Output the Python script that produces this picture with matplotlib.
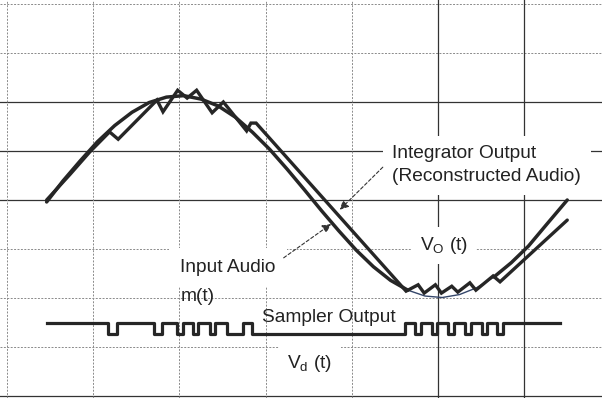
import matplotlib.pyplot as plt

plt.rcParams['font.family'] = ['Liberation Sans', 'DejaVu Sans']

# everything is in scope divisions (x: time, y: volts per division)
# input audio m(t)
sine_t = [0.46, 0.65, 0.85, 1.05, 1.25, 1.45, 1.65, 1.85, 2.05, 2.25, 2.45,
          2.65, 2.85, 3.05, 3.25, 3.45, 3.65, 3.85, 4.05, 4.25, 4.45, 4.65,
          4.85, 5.05, 5.25, 5.45, 5.65, 5.85, 6.05, 6.25, 6.50]
sine_v = [-0.04, 0.39, 0.80, 1.19, 1.52, 1.79, 1.99, 2.10, 2.13, 2.06, 1.92,
          1.69, 1.38, 1.03, 0.63, 0.21, -0.22, -0.63, -1.02, -1.36, -1.64, -1.84,
          -1.96, -1.99, -1.93, -1.79, -1.57, -1.28, -0.94, -0.52, 0.00]

# integrator output (reconstructed audio) corner points
integ_t = [0.46, 0.73, 0.96, 1.19, 1.29, 1.74, 1.81, 1.98, 2.09, 2.20, 2.38,
           2.51, 2.78, 2.83, 2.89, 4.63, 4.77, 4.84, 4.97, 5.04, 5.16, 5.23,
           5.37, 5.44, 5.64, 5.72, 6.50]
integ_v = [0.00, 0.52, 0.98, 1.39, 1.24, 2.04, 1.80, 2.24, 2.08, 2.24, 1.78,
           2.00, 1.41, 1.57, 1.57, -1.86, -1.73, -1.90, -1.73, -1.90, -1.76, -1.88,
           -1.69, -1.84, -1.55, -1.67, -0.41]

# sampler output Vd(t): bit switching times and the bit after each switch
bit_t = [0.46, 1.17, 1.28, 1.71, 1.80, 1.97, 2.04, 2.16, 2.22, 2.36, 2.41,
         2.55, 2.74, 2.84, 4.62, 4.73, 4.80, 4.93, 4.99, 5.12, 5.19, 5.31,
         5.38, 5.51, 5.57, 5.68, 5.75, 6.42]
bits = [1, 0, 1, 0, 1, 0, 1, 0, 1, 0, 1, 0, 1, 0, 1, 0, 1, 0, 1, 0, 1, 0,
        1, 0, 1, 0, 1, 1]
bit_high = -2.52
bit_low = -2.73

# graticule
h_lines = [4, 3, 2, 1, 0, -1, -2, -3, -4]
h_solid = [False, False, True, True, True, False, False, False, True]
v_lines = [0, 1, 2, 3, 4, 5, 6]
v_solid = [False, False, False, False, False, True, True]

ink = '#262626'

fig = plt.figure(figsize=(6.02, 3.98), dpi=100)
fig.patch.set_facecolor('white')
ax = fig.add_axes([0, 0, 1, 1])
ax.set_xlim(-0.081, 6.903)
ax.set_ylim(-4.041, 4.082)
ax.axis('off')

for v, solid in zip(h_lines, h_solid):
    if solid:
        ax.axhline(v, color='#333333', lw=0.9, zorder=1)
    else:
        ax.axhline(v, color='#8a8a8a', lw=0.7, ls=(0, (2, 1.5)), zorder=1)
for t, solid in zip(v_lines, v_solid):
    if solid:
        ax.axvline(t, color='#333333', lw=0.9, zorder=1)
    else:
        ax.axvline(t, color='#8a8a8a', lw=0.7, ls=(0, (2, 1.5)), zorder=1)

# input audio: thick, thin near the trough where the integrator hunts
thin0 = sine_t.index(4.65)
thin1 = sine_t.index(5.65)
ax.plot(sine_t[:thin0 + 1], sine_v[:thin0 + 1], color=ink, lw=2.5,
        solid_capstyle='round', zorder=3)
ax.plot(sine_t[thin0:thin1 + 1], sine_v[thin0:thin1 + 1], color='#34466a',
        lw=1.0, zorder=3)
ax.plot(sine_t[thin1:], sine_v[thin1:], color=ink, lw=2.5,
        solid_capstyle='round', zorder=3)

ax.plot(integ_t, integ_v, color=ink, lw=2.4, solid_joinstyle='miter',
        solid_capstyle='round', zorder=3)

levels = [bit_high if b else bit_low for b in bits]
ax.step(bit_t, levels, where='post', color=ink, lw=2.3, zorder=3)

txt = dict(fontsize=13.8, color='#222222', zorder=2)
box = dict(fc='white', ec='none', pad=6)

# baseline of a two-line label sits on its last line
ax.text(4.47, 0.39, 'Integrator Output\n(Reconstructed Audio)',
        va='baseline', ha='left', linespacing=1.42,
        bbox=dict(fc='white', ec='none', pad=7), **txt)
ax.text(2.01, -1.47, 'Input Audio', va='baseline', ha='left',
        bbox=dict(fc='white', ec='none', pad=8), **txt)
ax.text(2.01, -2.07, 'm(t)', va='baseline', ha='left', **txt)
ax.text(2.96, -2.48, 'Sampler Output', va='baseline', ha='left', **txt)
ax.text(3.25, -3.43, r'V$_\mathregular{d}$ (t)', va='baseline', ha='left',
        bbox=box, **txt)
ax.text(4.79, -1.02, r'V$_\mathregular{O}$ (t)', va='baseline', ha='left',
        bbox=box, **txt)

arrow = dict(arrowstyle='-|>', color='#333333', lw=0.8, ls=(0, (3, 2)),
             mutation_scale=13, shrinkA=0, shrinkB=0)
ax.annotate('', xy=(3.76, -0.49), xytext=(3.21, -1.18), arrowprops=arrow,
            zorder=4)
ax.annotate('', xy=(3.86, -0.20), xytext=(4.36, 0.67), arrowprops=arrow,
            zorder=4)

fig.savefig('out.png', dpi=100, facecolor='white')
